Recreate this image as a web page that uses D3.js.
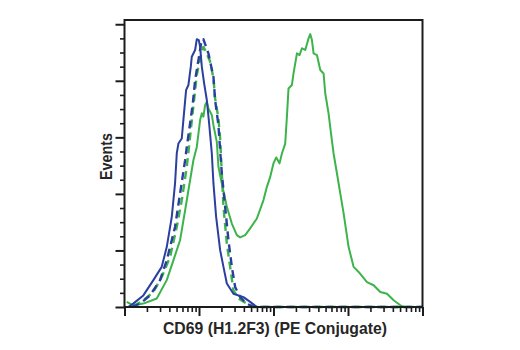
<!DOCTYPE html>
<html>
<head>
<meta charset="utf-8">
<script src="https://cdn.jsdelivr.net/npm/d3@7"></script>
<style>
  html, body { margin: 0; padding: 0; background: #fff; }
  svg { display: block; }
  .lbl { font-family: "Liberation Sans", Arial, sans-serif; font-weight: bold; fill: #262626; }
</style>
</head>
<body>
<svg id="chart" width="520" height="350"></svg>
<script>
// ---- Data (PE intensity, event count scaled to % of max) ----
const xLabel = "CD69 (H1.2F3) (PE Conjugate)";
const yLabel = "Events";

const xDomain = [1e2, 1e6];
const yDomain = [0, 101.5];
const yMajorTicks = [0, 20, 40, 60, 80, 100];

const greenSolidX = [107,131,179,271,369,453,557,651,721,841,934,1035,1091,1146,1208,1273,1337,1486,1563,1734,1823,2025,2365,2759,3218,3568,4167,4860,5980,7340,8150,9030,10000,10870,12050,12970,14360,15130,15910,17650,18570,20640,22360,24080,26690,29540,31120,32800,34510,38290,42450,46990,49540,54830,59120,64040,71120,78840,87330,101900,118900,138800,179800,220700,271500,334000,410000,504500,558600,1000000];
const greenSolidY = [1.8,0.6,1.2,3.0,9.5,16.5,23.6,34.2,41.3,51.9,56.6,66.1,68.5,67.3,71.4,72.6,70.2,67.9,64.3,58.4,49.6,43.7,35.4,29.5,25.4,24.6,25.4,27.8,31.3,37.8,42.5,46.0,50.8,52.9,50.8,54.3,57.8,67.3,77.3,78.5,82.6,89.7,89.1,91.5,90.9,95.0,96.5,94.4,89.7,89.1,83.8,82.6,75.5,68.5,61.4,54.3,47.2,40.1,33.1,21.2,14.2,12.4,8.8,7.7,5.3,4.7,2.4,0.6,0,0];

const greenDashX = [131,179,244,316,409,503,587,686,934,1035,1146,1208,1410,1563,1645,1823,1922,2025,2130,2365,2618,2900,3385,4389,5675,1000000];
const greenDashY = [0.25,2.4,5.3,10.6,17.7,28.3,37.8,49.6,82.0,87.9,92.0,90.9,86.8,80.9,73.8,66.7,59.6,47.2,35.4,22.4,14.2,5.9,3.0,1.2,0,0];

const blueDashX = [125,162,220,300,369,477,557,651,686,759,826,887,982,1091,1146,1337,1563,1645,1823,1922,2025,2244,2485,2759,3056,3568,4389,5385,1000000];
const blueDashY = [0,1.2,4.1,9.5,16.5,28.3,40.1,51.9,56.6,64.9,72.0,80.3,87.3,94.7,94.7,89.7,81.4,73.2,64.3,55.5,47.2,35.4,23.6,14.2,7.1,3.5,1.2,0,0];

const blueSolidX = [112,131,179,244,316,369,431,477,503,529,587,617,671,721,776,800,887,934,994,1035,1091,1172,1273,1368,1486,1563,1698,1922,2130,2365,2900,3953,4860,5980,1000000];
const blueSolidY = [0,1.2,4.1,9.5,14.2,21.2,31.9,43.7,54.3,57.8,59.6,66.1,76.7,78.5,85.0,88.5,90.9,94.7,94.4,92.0,85.0,79.1,73.2,64.9,54.3,43.7,31.9,20.1,14.2,8.3,4.7,3.5,1.8,0,0];

const seriesList = [
  { name: "green solid", xs: greenSolidX, ys: greenSolidY, color: "#3cb44b", dash: null, width: 2 },
  { name: "green dashed", xs: greenDashX, ys: greenDashY, color: "#3cb44b", dash: "8,5", width: 2.4 },
  { name: "blue dashed", xs: blueDashX, ys: blueDashY, color: "#2b3f9e", dash: "8,5", width: 2.4 },
  { name: "blue solid", xs: blueSolidX, ys: blueSolidY, color: "#2b3f9e", dash: null, width: 2 }
];

// ---- Layout ----
const svg = d3.select("#chart");
const mLeft = 124.5, mRight = 422.5, mTop = 20, mBottom = 307;

const x = d3.scaleLog().domain(xDomain).range([mLeft, mRight]);
const y = d3.scaleLinear().domain(yDomain).range([mBottom, mTop]);

// Curves
const line = d3.line().x(d => x(d[0])).y(d => y(d[1]));
const g = svg.append("g");
seriesList.forEach(s => {
  const pts = s.xs.map((v, i) => [v, s.ys[i]]);
  g.append("path")
    .datum(pts)
    .attr("d", line)
    .attr("fill", "none")
    .attr("stroke", s.color)
    .attr("stroke-width", s.width)
    .attr("stroke-linejoin", "round")
    .attr("stroke-dasharray", s.dash);
});

// Ticks
const xMajor = [1e2, 1e3, 1e4, 1e5, 1e6];
const xMinor = [];
[1e2, 1e3, 1e4, 1e5].forEach(d => { for (let k = 2; k <= 9; k++) xMinor.push(d * k); });
const yMinor = d3.range(5, 100, 5).filter(v => v % 20 !== 0);

const frameColor = "#1c1c1c";

svg.append("g").attr("transform", `translate(0,${mBottom})`)
  .call(d3.axisBottom(x).tickValues(xMinor).tickSize(5).tickSizeOuter(0).tickFormat(""))
  .call(a => a.select(".domain").remove())
  .call(a => a.selectAll("line").attr("stroke", frameColor).attr("stroke-width", 1.6));
svg.append("g").attr("transform", `translate(0,${mBottom})`)
  .call(d3.axisBottom(x).tickValues(xMajor).tickSize(9).tickSizeOuter(0).tickFormat(""))
  .call(a => a.select(".domain").remove())
  .call(a => a.selectAll("line").attr("stroke", frameColor).attr("stroke-width", 2));

svg.append("g").attr("transform", `translate(${mLeft},0)`)
  .call(d3.axisLeft(y).tickValues(yMinor).tickSize(4.5).tickSizeOuter(0).tickFormat(""))
  .call(a => a.select(".domain").remove())
  .call(a => a.selectAll("line").attr("stroke", frameColor).attr("stroke-width", 1.6));
svg.append("g").attr("transform", `translate(${mLeft},0)`)
  .call(d3.axisLeft(y).tickValues(yMajorTicks).tickSize(9).tickSizeOuter(0).tickFormat(""))
  .call(a => a.select(".domain").remove())
  .call(a => a.selectAll("line").attr("stroke", frameColor).attr("stroke-width", 2));

// Frame
svg.append("rect")
  .attr("x", mLeft).attr("y", mTop)
  .attr("width", mRight - mLeft).attr("height", mBottom - mTop)
  .attr("fill", "none").attr("stroke", frameColor).attr("stroke-width", 2);

// Labels (condensed bold look via horizontal compression)
svg.append("text").attr("class", "lbl")
  .attr("x", 275).attr("y", 334)
  .attr("text-anchor", "middle").attr("font-size", 17)
  .attr("textLength", 224).attr("lengthAdjust", "spacingAndGlyphs")
  .text(xLabel);

svg.append("text").attr("class", "lbl")
  .attr("transform", `translate(111.5,156.5) rotate(-90)`)
  .attr("text-anchor", "middle").attr("font-size", 17)
  .attr("textLength", 47).attr("lengthAdjust", "spacingAndGlyphs")
  .text(yLabel);
</script>
</body>
</html>
